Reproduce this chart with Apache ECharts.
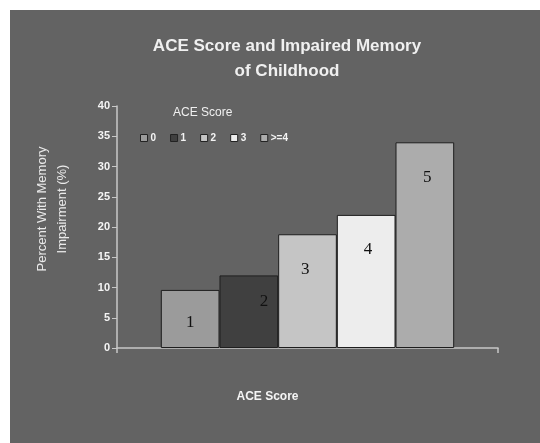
<!DOCTYPE html>
<html>
<head>
<meta charset="utf-8">
<script src="https://cdn.jsdelivr.net/npm/echarts@6/dist/echarts.min.js"></script>
<style>html,body{margin:0;padding:0;background:#fff;}#c{width:540px;height:443px;}</style>
</head>
<body>
<div id="c"></div>
<script>
const categories = ['0', '1', '2', '3', '>=4'];
const values = [9.6, 12, 18.8, 22, 34];
const barLabels = ['1', '2', '3', '4', '5'];
const barColors = ['#9b9b9b', '#404040', '#c5c5c5', '#ededed', '#acacac'];
const labelPos = [['50%', '57%'], ['76%', '36%'], ['46%', '31%'], ['53%', '26%'], ['54%', '17%']];

const chart = echarts.init(document.getElementById('c'));
const series = categories.map((name, i) => ({
  name: name,
  type: 'bar',
  data: [values[i]],
  barGap: '0%',
  barCategoryGap: '23%',
  itemStyle: { color: barColors[i], borderColor: '#1e1e1e', borderWidth: 1 },
  label: {
    show: true,
    position: labelPos[i],
    align: 'center',
    verticalAlign: 'middle',
    formatter: () => barLabels[i],
    fontFamily: 'Liberation Serif',
    fontSize: 17,
    color: '#111'
  },
  emphasis: { disabled: true }
}));

chart.setOption({
  animation: false,
  backgroundColor: '#ffffff',
  graphic: [{
    type: 'rect', left: 10, top: 10, z: -10,
    shape: { width: 530, height: 433 },
    style: { fill: '#636363' }
  }],
  title: [{
    text: 'ACE Score and Impaired Memory\nof Childhood',
    left: 282, top: 29, textAlign: 'center',
    textStyle: { color: '#f0f0f0', fontFamily: 'Liberation Sans', fontWeight: 'bold', fontSize: 17, lineHeight: 25 }
  }, {
    text: 'ACE Score',
    left: 173, top: 107,
    padding: 0,
    textStyle: { color: '#f0f0f0', fontFamily: 'Liberation Sans', fontWeight: 'normal', fontSize: 12 }
  }],
  legend: {
    data: categories,
    left: 140, top: 133,
    padding: 0,
    itemWidth: 7, itemHeight: 7,
    itemGap: 14,
    itemStyle: { borderColor: '#222', borderWidth: 1 },
    icon: 'rect',
    textStyle: { color: '#f4f4f4', fontFamily: 'Liberation Sans', fontWeight: 'bold', fontSize: 10, padding: [0, 0, 0, -2] }
  },
  grid: { left: 117, right: 42, top: 106, bottom: 95, containLabel: false },
  xAxis: {
    type: 'category',
    data: [''],
    name: 'ACE Score',
    nameLocation: 'middle',
    nameGap: 43,
    nameTextStyle: { color: '#f4f4f4', fontFamily: 'Liberation Sans', fontWeight: 'bold', fontSize: 12, padding: [0, 80, 0, 0] },
    axisLine: { lineStyle: { color: '#c8c8c8', width: 1.5 } },
    axisTick: { show: true, length: 5, lineStyle: { color: '#c8c8c8', width: 1.5 } },
    axisLabel: { show: false }
  },
  yAxis: {
    type: 'value',
    min: 0, max: 40, interval: 5,
    name: 'Percent With Memory\nImpairment (%)',
    nameLocation: 'middle',
    nameGap: 45,
    nameRotate: 90,
    nameTextStyle: { color: '#eaeaea', fontFamily: 'Liberation Sans', fontSize: 13, lineHeight: 20, padding: [0, 0, 0, 36] },
    axisLine: { show: true, lineStyle: { color: '#c8c8c8', width: 1.5 } },
    axisTick: { show: true, length: 5, lineStyle: { color: '#c8c8c8', width: 1 } },
    axisLabel: { color: '#f4f4f4', fontFamily: 'Liberation Sans', fontWeight: 'bold', fontSize: 11, margin: 7 },
    splitLine: { show: false }
  },
  series: series
});
</script>
</body>
</html>
